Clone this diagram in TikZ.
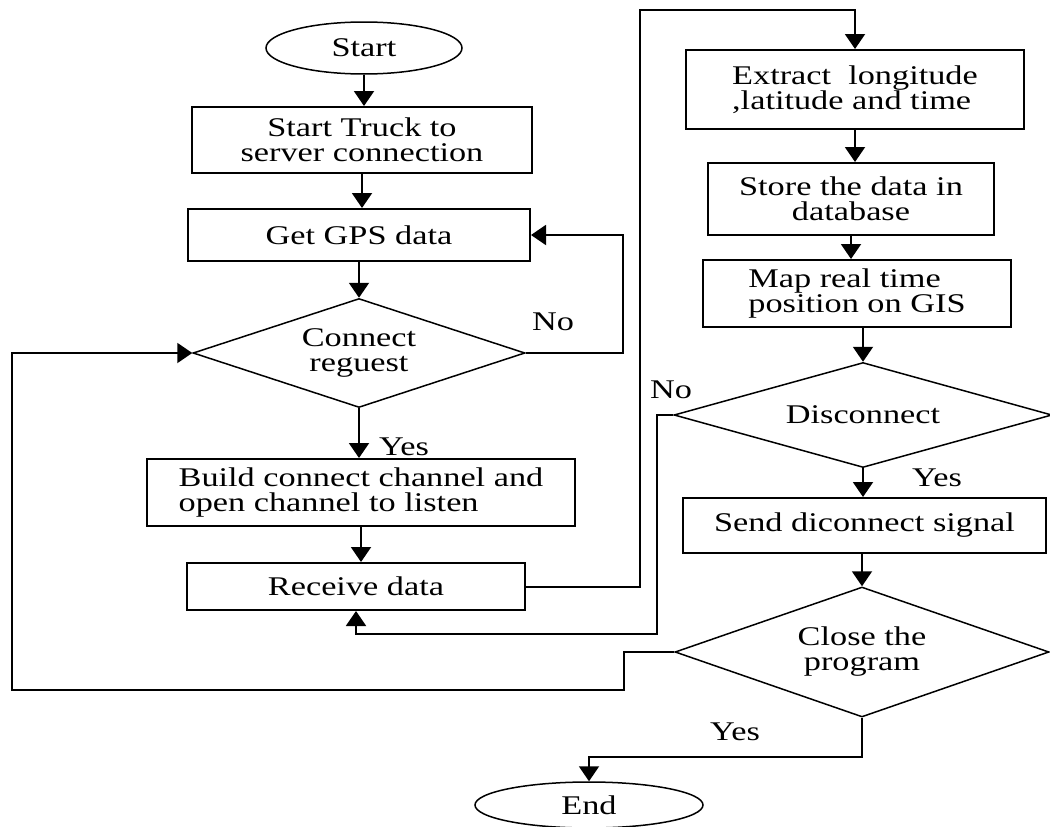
\documentclass[tikz,border=0pt]{standalone}
\usepackage{fontspec}
\setmainfont{Liberation Serif}[FakeStretch=1.27]
\usetikzlibrary{shapes.geometric,arrows.meta}
\begin{document}
\begin{tikzpicture}[x=1pt,y=-1pt,
  font=\fontsize{27}{25}\selectfont,
  line width=2pt,
  box/.style={draw,rectangle,inner sep=0pt,align=center},
  dia/.style={draw,diamond,inner sep=0pt,align=center,line width=1.5pt},
  term/.style={draw,ellipse,inner sep=0pt,line width=1.5pt},
  arr/.style={-{Triangle[length=15pt,width=20pt]}},
  lbl/.style={inner sep=0pt}]
\useasboundingbox (0,0) rectangle (1050,827);
\fill[white] (0,0) rectangle (1050,827);

% left column
\node[term,minimum width=196pt,minimum height=52pt] (start) at (364,48) {Start};
\node[box,minimum width=340pt,minimum height=66pt] (truck) at (362,140) {Start Truck to\\server connection};
\node[box,minimum width=342pt,minimum height=52pt] (gps) at (359,235) {Get GPS data};
\node[dia,aspect=3.05,minimum width=332pt,minimum height=109pt] (conn) at (359,353) {Connect\\reguest};
\node[box,minimum width=428pt,minimum height=67pt,align=left] (build) at (361,492.5) {Build connect channel and\\open channel to listen};
\node[box,minimum width=338pt,minimum height=47pt] (recv) at (356,586.5) {Receive data};

% right column
\node[box,minimum width=338pt,minimum height=79pt,align=left] (extract) at (855,89.5) {Extract \ longitude\\,latitude and time};
\node[box,minimum width=286pt,minimum height=72pt] (store) at (851,199) {Store the data in\\database};
\node[box,minimum width=308pt,minimum height=67pt,align=left] (map) at (857,293.5) {Map real time\\position on GIS};
\node[dia,aspect=3.6,minimum width=378pt,minimum height=105pt] (disc) at (863,415) {Disconnect};
\node[box,minimum width=363pt,minimum height=55pt] (send) at (864.5,525.5) {Send diconnect signal};
\node[dia,aspect=2.88,minimum width=374pt,minimum height=130pt] (close) at (862,652) {Close the\\program};
\node[term,minimum width=228pt,minimum height=46pt] (end) at (589,805) {End};

% labels
\node[lbl] (no1) at (553,322) {No};
\node[lbl] (yes1) at (404,447) {Yes};
\node[lbl] (no2) at (671,390) {No};
\node[lbl] (yes2) at (937,478) {Yes};
\node[lbl] (yes3) at (735,732) {Yes};

% straight flow
\draw[arr] (start.south) -- (start.south |- truck.north);
\draw[arr] (truck.south) -- (truck.south |- gps.north);
\draw[arr] (gps.south) -- (gps.south |- conn.north);
\draw[arr] (conn.south) -- (conn.south |- build.north);
\draw[arr] (build.south) -- (build.south |- recv.north);
\draw[arr] (extract.south) -- (extract.south |- store.north);
\draw[arr] (store.south) -- (store.south |- map.north);
\draw[arr] (disc.north |- map.south) -- (disc.north);
\draw[arr] (disc.south) -- (disc.south |- send.north);
\draw[arr] (close.north |- send.south) -- (close.north);

% loops
\coordinate (n1) at (623,0);
\draw[arr] (conn.east) -- (conn.east -| n1) |- (gps.east);
\coordinate (r1) at (640,10);
\draw[arr] (recv.east) -| (r1) -| (extract.north);
\coordinate (d1) at (657,634);
\draw[arr] (disc.west) -| (d1) -| (recv.south);
\coordinate (c1) at (624,690);
\coordinate (c2) at (12,690);
\draw[arr] (close.west) -| (c1) -- (c2) |- (conn.west);
\coordinate (y1) at (0,757);
\draw[arr] (close.south) -- (close.south |- y1) -| (end.north);
\end{tikzpicture}
\end{document}
